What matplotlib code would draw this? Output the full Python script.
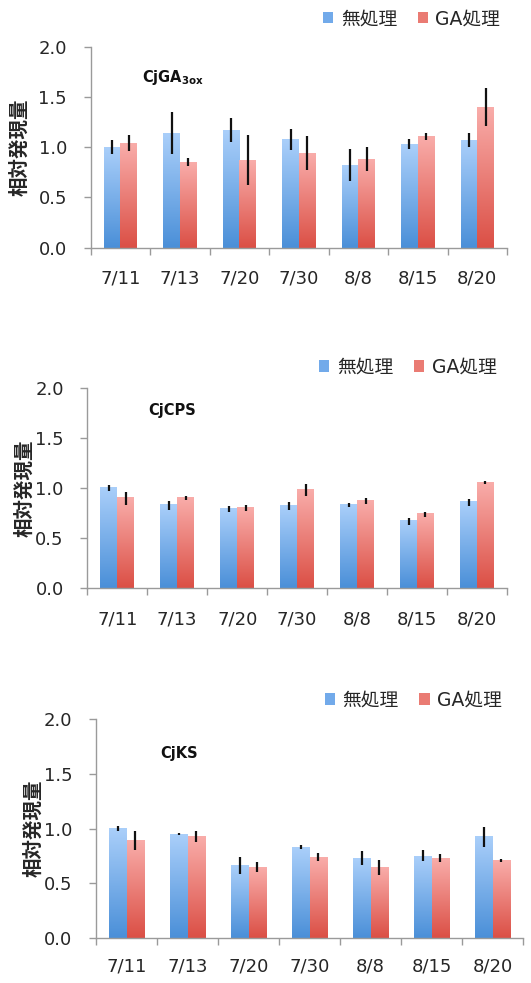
import numpy as np
import matplotlib
matplotlib.use('Agg')
import matplotlib.pyplot as plt
from matplotlib.colors import LinearSegmentedColormap
from matplotlib.patches import Patch

plt.rcParams['font.family'] = ['DejaVu Sans', 'Noto Sans CJK JP']

dates = ['7/11', '7/13', '7/20', '7/30', '8/8', '8/15', '8/20']
series_names = ['無処理', 'GA処理']
genes = [r'CjGA$_{\mathbf{3ox}}$', 'CjCPS', 'CjKS']

# CjGA3ox
ga3ox_ctrl = [1.00, 1.14, 1.17, 1.08, 0.82, 1.03, 1.07]
ga3ox_ctrl_err = [0.07, 0.21, 0.12, 0.105, 0.16, 0.05, 0.07]
ga3ox_ga = [1.04, 0.85, 0.87, 0.94, 0.88, 1.11, 1.40]
ga3ox_ga_err = [0.08, 0.04, 0.25, 0.17, 0.12, 0.035, 0.19]

# CjCPS
cps_ctrl = [1.00, 0.83, 0.79, 0.82, 0.83, 0.67, 0.86]
cps_ctrl_err = [0.03, 0.045, 0.03, 0.04, 0.02, 0.035, 0.035]
cps_ga = [0.90, 0.90, 0.80, 0.98, 0.87, 0.74, 1.05]
cps_ga_err = [0.065, 0.02, 0.03, 0.055, 0.03, 0.025, 0.015]

# CjKS
ks_ctrl = [1.00, 0.95, 0.66, 0.83, 0.73, 0.75, 0.925]
ks_ctrl_err = [0.02, 0.01, 0.075, 0.015, 0.065, 0.05, 0.09]
ks_ga = [0.89, 0.93, 0.65, 0.74, 0.645, 0.73, 0.71]
ks_ga_err = [0.09, 0.05, 0.045, 0.04, 0.07, 0.035, 0.015]

panels = [
    (ga3ox_ctrl, ga3ox_ctrl_err, ga3ox_ga, ga3ox_ga_err),
    (cps_ctrl, cps_ctrl_err, cps_ga, cps_ga_err),
    (ks_ctrl, ks_ctrl_err, ks_ga, ks_ga_err),
]

blue_cmap = LinearSegmentedColormap.from_list('b', ['#4a8fd8', '#aacffa'])
red_cmap = LinearSegmentedColormap.from_list('r', ['#db4f45', '#f9adaa'])
grad = np.linspace(0, 1, 256).reshape(-1, 1)

W, H = 531, 983
fig = plt.figure(figsize=(W / 100, H / 100), dpi=100)

# axes boxes in pixels: left, top, right, bottom
boxes = [(90.7, 46.7, 507, 247.7), (87.3, 387.7, 507, 588.3), (96, 719.3, 523, 937.7)]
title_pos = [(0.123, 0.845), (0.145, 0.884), (0.15, 0.843)]
legend_pos = [(0.984, 1.138), (0.975, 1.103), (0.951, 1.088)]
ylabel_x = [20, 25, 34]
xpads = [16, 16, 14]

spine_col = '#9a9a9a'
text_col = '#262626'
width = 0.28
x = np.arange(len(dates))

for k, (ctrl, ctrl_err, ga, ga_err) in enumerate(panels):
    l, t, r, b = boxes[k]
    ax = fig.add_axes([l / W, 1 - b / H, (r - l) / W, (b - t) / H])

    for vals, errs, off, cmap in [(ctrl, ctrl_err, -width / 2, blue_cmap),
                                  (ga, ga_err, width / 2, red_cmap)]:
        bars = ax.bar(x + off, vals, width=width, color='none', edgecolor='none')
        for bar in bars:
            x0, w, h = bar.get_x(), bar.get_width(), bar.get_height()
            ax.imshow(grad, origin='lower', cmap=cmap, aspect='auto',
                      extent=[x0, x0 + w, 0, h], zorder=2)
        ax.errorbar(x + off, vals, yerr=errs, fmt='none', ecolor='#111111',
                    elinewidth=1.6, capsize=0, zorder=3)

    ax.set_xlim(-0.5, len(dates) - 0.5)
    ax.set_ylim(0, 2.0)
    ax.set_yticks(np.arange(0, 2.01, 0.5))
    ax.set_yticklabels(['%.1f' % v for v in np.arange(0, 2.01, 0.5)])
    ax.set_xticks(x)
    ax.set_xticklabels(dates)
    ax.set_xticks(np.arange(-0.5, len(dates), 1.0), minor=True)
    ax.tick_params(axis='x', which='major', length=0, pad=xpads[k], labelsize=13,
                   colors=text_col)
    ax.tick_params(axis='x', which='minor', length=5, color=spine_col, width=1)
    ax.tick_params(axis='y', length=5, color=spine_col, width=1, pad=12, labelsize=13,
                   labelcolor=text_col)
    for s in ['top', 'right']:
        ax.spines[s].set_visible(False)
    for s in ['left', 'bottom']:
        ax.spines[s].set_color(spine_col)
        ax.spines[s].set_linewidth(1.0)

    ax.text(title_pos[k][0], title_pos[k][1], genes[k], transform=ax.transAxes,
            fontsize=10.5, fontweight='bold', ha='left', va='center', color='#111111')

    fig.text(ylabel_x[k] / W, 1 - ((t + b) / 2) / H, '相対発現量', rotation=90,
             ha='center', va='center', fontsize=14, fontweight='bold', color=text_col)

    handles = [Patch(facecolor='#72aaea', edgecolor='none'),
               Patch(facecolor='#ea7b73', edgecolor='none')]
    ax.legend(handles, series_names, loc='center right', bbox_to_anchor=legend_pos[k],
              ncol=2, frameon=False, fontsize=13.5, handlelength=0.55, handleheight=0.55,
              handletextpad=0.4, columnspacing=1.1, borderpad=0, borderaxespad=0,
              labelcolor=text_col)

fig.savefig('out.png', dpi=100)
